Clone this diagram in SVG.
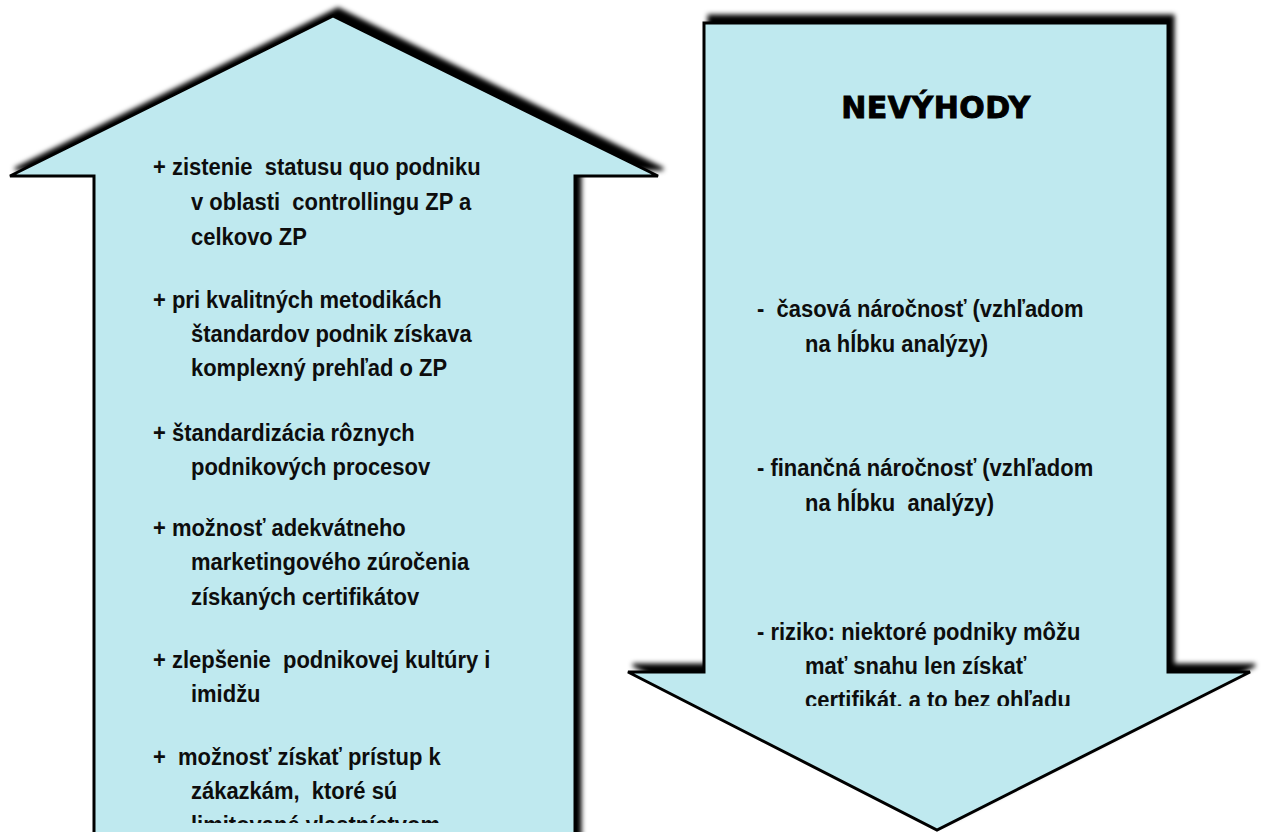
<svg xmlns="http://www.w3.org/2000/svg" width="1261" height="832" viewBox="0 0 1261 832">
  <defs>
    <style>
      .arrow { fill: #BFE9EF; stroke: #000; stroke-width: 3; stroke-linejoin: miter; filter: url(#shadow); }
      .t { font-family: "Liberation Sans", Arial, sans-serif; font-weight: bold; font-size: 24px; fill: #0d0d0d; white-space: pre; }
      .title { font-family: "DejaVu Sans", "Liberation Sans", sans-serif; font-weight: bold; font-size: 30px; letter-spacing: 0.5px; fill: #000; stroke: #000; stroke-width: 0.9px; text-anchor: middle; }
    </style>
    <filter id="shadow" x="-10%" y="-10%" width="120%" height="120%">
      <feGaussianBlur in="SourceAlpha" stdDeviation="2.4" result="blur"/>
      <feOffset in="blur" dx="5" dy="-7" result="off"/>
      <feFlood flood-color="#000" flood-opacity="1"/>
      <feComposite in2="off" operator="in" result="sh"/>
      <feMerge>
        <feMergeNode in="sh"/>
        <feMergeNode in="SourceGraphic"/>
      </feMerge>
    </filter>
    <clipPath id="clip-left">
      <rect x="96" y="130" width="478" height="693"/>
    </clipPath>
    <clipPath id="clip-right">
      <rect x="706" y="270" width="460" height="436"/>
    </clipPath>
  </defs>

  <!-- up arrow: advantages -->
  <g id="arrow-advantages">
    <polygon class="arrow" points="10,176 333,16 658,176 575,176 575,850 94,850 94,176"/>
    <g clip-path="url(#clip-left)">
      <text class="t" transform="translate(153,175) scale(0.915,1)">+ zistenie  statusu quo podniku</text>
      <text class="t" transform="translate(191,210) scale(0.915,1)">v oblasti  controllingu ZP a</text>
      <text class="t" transform="translate(191,245) scale(0.915,1)">celkovo ZP</text>
      <text class="t" transform="translate(153,308) scale(0.915,1)">+ pri kvalitných metodikách</text>
      <text class="t" transform="translate(191,342) scale(0.915,1)">štandardov podnik získava</text>
      <text class="t" transform="translate(191,376) scale(0.915,1)">komplexný prehľad o ZP</text>
      <text class="t" transform="translate(153,441) scale(0.915,1)">+ štandardizácia rôznych</text>
      <text class="t" transform="translate(191,475) scale(0.915,1)">podnikových procesov</text>
      <text class="t" transform="translate(153,536) scale(0.915,1)">+ možnosť adekvátneho</text>
      <text class="t" transform="translate(191,570) scale(0.915,1)">marketingového zúročenia</text>
      <text class="t" transform="translate(191,605) scale(0.915,1)">získaných certifikátov</text>
      <text class="t" transform="translate(153,668) scale(0.915,1)">+ zlepšenie  podnikovej kultúry i</text>
      <text class="t" transform="translate(191,702) scale(0.915,1)">imidžu</text>
      <text class="t" transform="translate(153,765) scale(0.915,1)">+  možnosť získať prístup k</text>
      <text class="t" transform="translate(191,799) scale(0.915,1)">zákazkám,  ktoré sú</text>
      <text class="t" transform="translate(191,833) scale(0.915,1)">limitované vlastníctvom</text>
    </g>
  </g>

  <!-- down arrow: disadvantages -->
  <g id="arrow-disadvantages">
    <polygon class="arrow" points="704,23 1168,23 1168,672 1250,672 937,830 628,672 704,672"/>
    <text class="title" x="936" y="118">NEVÝHODY</text>
    <g clip-path="url(#clip-right)">
      <text class="t" transform="translate(757,317) scale(0.915,1)">-  časová náročnosť (vzhľadom</text>
      <text class="t" transform="translate(805,352) scale(0.915,1)">na hĺbku analýzy)</text>
      <text class="t" transform="translate(757,476) scale(0.915,1)">- finančná náročnosť (vzhľadom</text>
      <text class="t" transform="translate(805,511) scale(0.915,1)">na hĺbku  analýzy)</text>
      <text class="t" transform="translate(757,640) scale(0.915,1)">- riziko: niektoré podniky môžu</text>
      <text class="t" transform="translate(805,674) scale(0.915,1)">mať snahu len získať</text>
      <text class="t" transform="translate(805,708) scale(0.915,1)">certifikát. a to bez ohľadu</text>
    </g>
  </g>

  <g id="connectors"/>
</svg>
